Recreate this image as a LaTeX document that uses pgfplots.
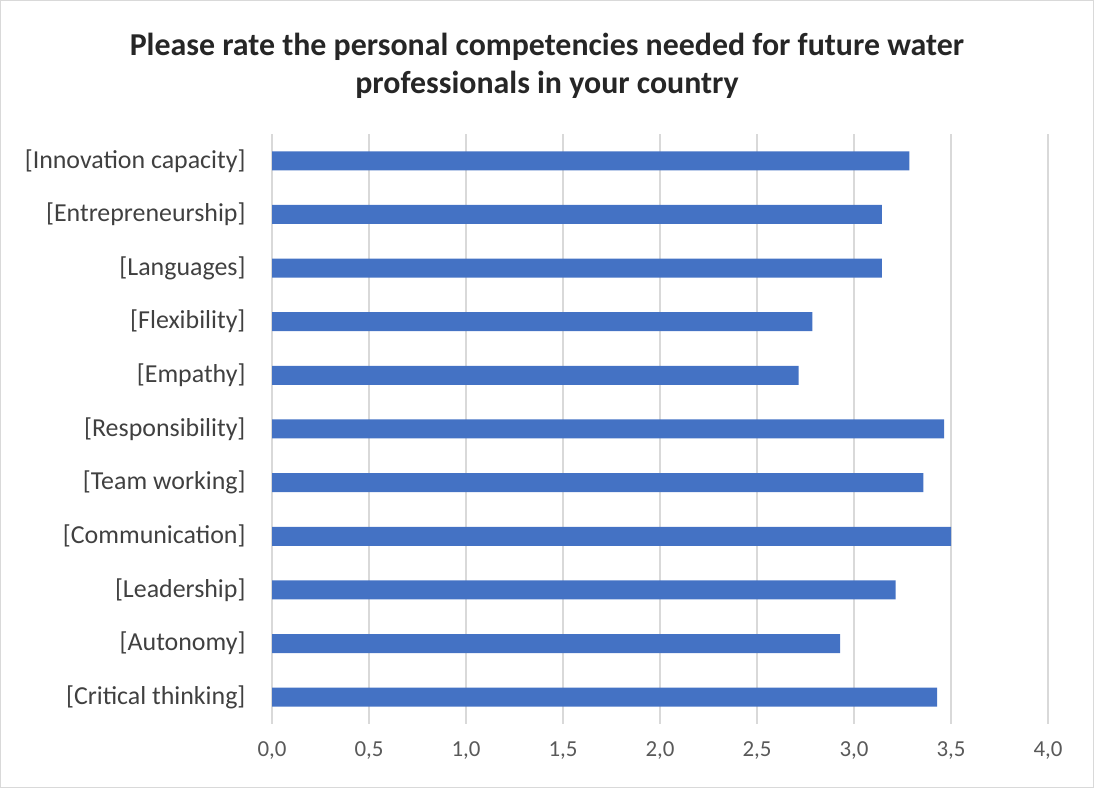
\documentclass[border=0pt]{standalone}
\usepackage{pgfplots}
\pgfplotsset{compat=1.18}
\usepackage{fontspec}
\setmainfont{Carlito}
\definecolor{barblue}{HTML}{4472C4}
\definecolor{gridgray}{HTML}{D9D9D9}
\definecolor{ticktext}{HTML}{595959}
\definecolor{labeltext}{HTML}{404040}
\definecolor{titletext}{HTML}{262626}
\begin{document}
\begin{tikzpicture}[x=1bp,y=1bp]
\draw[gridgray, line width=1bp] (0.5,0.5) rectangle (1093.5,787.5);
\node[font=\fontsize{32}{38}\selectfont\bfseries, text=titletext] at (547,741) {Please rate the personal competencies needed for future water};
\node[font=\fontsize{32}{38}\selectfont\bfseries, text=titletext] at (547,703) {professionals in your country};
\begin{axis}[
  at={(272bp,64bp)}, anchor=south west,
  scale only axis, width=776bp, height=590bp,
  xbar, bar width=19bp,
  xmin=0, xmax=4, ymin=-0.5, ymax=10.5,
  xtick={0,0.5,...,4.0},
  ytick={0,...,10},
  yticklabels={{[Critical thinking]},{[Autonomy]},{[Leadership]},{[Communication]},{[Team working]},{[Responsibility]},{[Empathy]},{[Flexibility]},{[Languages]},{[Entrepreneurship]},{[Innovation capacity]}},
  xticklabel style={font=\fontsize{23}{27}\selectfont, text=ticktext, yshift=-14bp, /pgf/number format/assume math mode=true, /pgf/number format/.cd, fixed, fixed zerofill, precision=1, use comma},
  yticklabel style={font=\fontsize{26}{30}\selectfont, text=labeltext, xshift=-23bp},
  axis line style={draw=none},
  major tick length=0pt,
  xmajorgrids, major grid style={gridgray, line width=1.5bp},
  ymajorgrids=false,
  clip=false,
]
\addplot[fill=barblue, draw=none] coordinates {
(3.429,0) (2.929,1) (3.214,2) (3.500,3) (3.357,4) (3.464,5) (2.714,6) (2.786,7) (3.143,8) (3.143,9) (3.286,10)
};
\end{axis}
\end{tikzpicture}
\end{document}
